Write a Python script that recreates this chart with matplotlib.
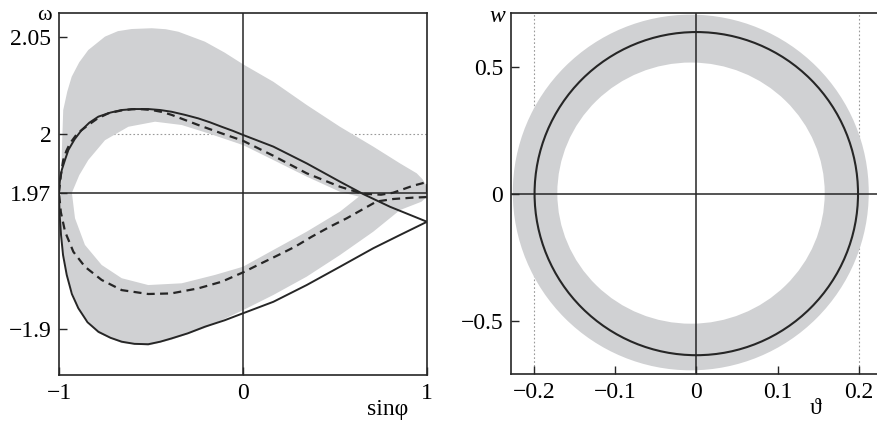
import numpy as np
import matplotlib
matplotlib.use('Agg')
import matplotlib.pyplot as plt
from matplotlib.path import Path
from matplotlib.patches import PathPatch, Ellipse

plt.rcParams['font.family'] = ['Liberation Serif', 'DejaVu Serif']

# ---- left panel: omega vs sin(phi) ----
# solid loop, upper branch (left -> right) and lower branch (right -> left)
solid_up_s = [-1.0, -0.995, -0.985, -0.967, -0.949, -0.915, -0.877, -0.835, -0.786, -0.72, -0.659,
              -0.59, -0.515, -0.45, -0.388, -0.315, -0.243, -0.18, -0.116, -0.055, 0.0, 0.165, 0.346,
              0.527, 0.654, 0.799, 1.0]
solid_up_w = [1.970, 1.976, 1.9817, 1.9870, 1.9920, 1.9975, 2.0022, 2.0060, 2.0091, 2.0112, 2.0125,
              2.0130, 2.0130, 2.0125, 2.0116, 2.0100, 2.0082, 2.0062, 2.0039, 2.0018, 1.9997, 1.9937, 1.9851,
              1.9757, 1.9693, 1.9628, 1.9551]
solid_lo_s = [1.0, 0.853, 0.708, 0.527, 0.346, 0.165, 0.0, -0.1, -0.207, -0.3, -0.388, -0.45, -0.515, -0.59,
              -0.659, -0.72, -0.786, -0.845, -0.895, -0.93, -0.958, -0.978, -0.989, -0.996, -1.0]
solid_lo_w = [1.9551, 1.9483, 1.9415, 1.9320, 1.9226, 1.9140, 1.9081, 1.9045, 1.9012, 1.8978, 1.8952, 1.8935, 1.8922, 1.8924,
              1.8935, 1.8955, 1.8986, 1.9035, 1.9107, 1.9180, 1.9278, 1.9380, 1.9483, 1.9580, 1.970]

# dashed loop
dash_up_s = [-1.0, -0.99, -0.977, -0.96, -0.94, -0.9, -0.841, -0.79, -0.732, -0.665, -0.605, -0.55, -0.496,
             -0.44, -0.388, -0.243, -0.116, 0.0, 0.165, 0.346, 0.527, 0.65, 0.75, 0.815, 0.924, 1.0]
dash_up_w = [1.970, 1.979, 1.9868, 1.9915, 1.9954, 2.0005, 2.0048, 2.0082, 2.0108, 2.0122, 2.0129, 2.0129, 2.0125,
             2.0115, 2.0100, 2.0048, 2.0005, 1.9967, 1.9890, 1.9800, 1.9731, 1.9695, 1.9690, 1.9700, 1.9736, 1.9755]
dash_lo_s = [1.0, 0.926, 0.817, 0.726, 0.654, 0.564, 0.473, 0.373, 0.283, 0.192, 0.1, 0.0, -0.116, -0.243,
             -0.39, -0.515, -0.659, -0.768, -0.859, -0.922, -0.967, -0.99, -1.0]
dash_lo_w = [1.9678, 1.9675, 1.9668, 1.9655, 1.9617, 1.9569, 1.9526, 1.9474, 1.9423, 1.9380, 1.9338, 1.9291, 1.9243, 1.9209,
             1.9183, 1.9180, 1.9200, 1.9252, 1.9320, 1.9397, 1.9500, 1.9600, 1.970]

# grey band: outer boundary and inner hole
band_out_s = [-0.993, -0.99, -0.985, -0.977, -0.955, -0.931, -0.89, -0.841, -0.75, -0.68, -0.605, -0.496, -0.42,
              -0.351, -0.207, -0.1, 0.0, 0.165, 0.346, 0.527, 0.708, 0.853, 0.944, 0.975, 0.989, 1.0, 1.0,
              0.97, 0.853, 0.708, 0.527, 0.346, 0.165, 0.0, -0.207, -0.388, -0.515, -0.659, -0.786, -0.895,
              -0.958, -0.989, -0.997]
band_out_w = [1.960, 1.970, 1.990, 2.0125, 2.022, 2.0296, 2.037, 2.0433, 2.0502, 2.053, 2.0541, 2.0545, 2.054,
              2.0527, 2.0476, 2.042, 2.036, 2.027, 2.0151, 2.0039, 1.9937, 1.9851, 1.980, 1.977, 1.9749, 1.972, 1.968,
              1.9654, 1.9611, 1.950, 1.938, 1.9269, 1.9175, 1.9097, 1.9005, 1.8945, 1.8915, 1.8928, 1.8979, 1.9100,
              1.9272, 1.9478, 1.956]
band_in_s = [-0.93, -0.89, -0.841, -0.75, -0.623, -0.478, -0.333, -0.188, 0.0, 0.165, 0.346, 0.527, 0.63,
             0.527, 0.346, 0.165, 0.0, -0.152, -0.333, -0.515, -0.659, -0.768, -0.859, -0.913]
band_in_w = [1.970, 1.979, 1.9868, 1.997, 2.0039, 2.0065, 2.0048, 2.0005, 1.9945, 1.9868, 1.9783, 1.9705, 1.968,
             1.9603, 1.950, 1.9406, 1.932, 1.9278, 1.9235, 1.9226, 1.9261, 1.9329, 1.9432, 1.9569]

left_yticks = [1.9, 1.97, 2.0, 2.05]
left_ylabels = ['\u22121.9', '1.97', '2', '2.05']
left_xticks = [-1, 0, 1]
left_xlabels = ['\u22121', '0', '1']

# ---- right panel: w vs theta ----
circle_c = (0.0, 0.0)
circle_ax = (0.199, 0.636)          # semi-axes (theta, w)
ring_out_c = (-0.0068, 0.0045)
ring_out_ax = (0.219, 0.700)
ring_in_c = (-0.0065, 0.002)
ring_in_ax = (0.1645, 0.514)

right_xticks = [-0.2, -0.1, 0, 0.1, 0.2]
right_xlabels = ['\u22120.2', '\u22120.1', '0', '0.1', '0.2']
right_yticks = [-0.5, 0, 0.5]
right_ylabels = ['\u22120.5', '0', '0.5']

GREY = '#d0d1d3'
INK = '#262626'
W, H = 877, 421

fig = plt.figure(figsize=(W / 100, H / 100), dpi=100)
ax1 = fig.add_axes([59 / W, 1 - 375 / H, (427 - 59) / W, (375 - 13) / H])
ax2 = fig.add_axes([511 / W, 1 - 374 / H, (882 - 511) / W, (374 - 13) / H])


def ring_path(outer, inner):
    outer = np.asarray(outer)
    inner = np.asarray(inner)

    def area(p):
        x, y = p[:, 0], p[:, 1]
        return 0.5 * np.sum(x * np.roll(y, -1) - np.roll(x, -1) * y)
    if np.sign(area(outer)) == np.sign(area(inner)):
        inner = inner[::-1]
    verts = np.concatenate([outer, outer[:1], inner, inner[:1]])
    codes = ([Path.MOVETO] + [Path.LINETO] * (len(outer) - 1) + [Path.CLOSEPOLY] +
             [Path.MOVETO] + [Path.LINETO] * (len(inner) - 1) + [Path.CLOSEPOLY])
    return Path(verts, codes)


# left panel
band = ring_path(np.column_stack([band_out_s, band_out_w]), np.column_stack([band_in_s, band_in_w]))
ax1.add_patch(PathPatch(band, facecolor=GREY, edgecolor='none', zorder=1))
ax1.axhline(2.0, color='#9a9a9a', lw=0.8, ls=(0, (1.5, 2)), zorder=0.5)
ax1.axhline(1.97, color=INK, lw=1.1, zorder=2)
ax1.axvline(0, color=INK, lw=1.1, zorder=2)
ax1.plot(solid_up_s + solid_lo_s, solid_up_w + solid_lo_w, color=INK, lw=1.4, zorder=3)
ax1.plot(dash_up_s + dash_lo_s, dash_up_w + dash_lo_w, color=INK, lw=1.6, ls=(0, (3.6, 2.4)), zorder=3)
ax1.set_xlim(-1, 1)
ax1.set_ylim(2.05 - 338 / 1947, 2.05 + 24 / 1947)
ax1.set_xticks(left_xticks)
ax1.set_xticklabels(left_xlabels)
ax1.set_yticks(left_yticks)
ax1.set_yticklabels(left_ylabels)

# right panel
ax2.add_patch(Ellipse(ring_out_c, 2 * ring_out_ax[0], 2 * ring_out_ax[1], facecolor=GREY, edgecolor='none', zorder=1))
ax2.add_patch(Ellipse(ring_in_c, 2 * ring_in_ax[0], 2 * ring_in_ax[1], facecolor='white', edgecolor='none', zorder=1.2))
for xv in (-0.2, 0.2):
    ax2.axvline(xv, color='#9a9a9a', lw=0.8, ls=(0, (1.5, 2)), zorder=0.5)
ax2.axhline(0, color=INK, lw=1.1, zorder=2)
ax2.axvline(0, color=INK, lw=1.1, zorder=2)
ax2.add_patch(Ellipse(circle_c, 2 * circle_ax[0], 2 * circle_ax[1], facecolor='none', edgecolor=INK, lw=1.5, zorder=3))
ax2.set_xlim(-0.228, 0.2285)
ax2.set_ylim(-0.71, 0.711)
ax2.set_xticks(right_xticks)
ax2.set_xticklabels(right_xlabels)
ax2.set_yticks(right_yticks)
ax2.set_yticklabels(right_ylabels)

for ax in (ax1, ax2):
    ax.tick_params(direction='in', length=6, width=1, labelsize=17, pad=6, color=INK)
    ax.tick_params(axis='y', pad=5.5)
    for sp in ax.spines.values():
        sp.set_linewidth(1.2)
        sp.set_color(INK)
        sp.set_zorder(4)

fig.text(44 / W, 1 - 16 / H, '\u03c9', fontsize=16, ha='center', va='center')
fig.text(388 / W, 1 - 409 / H, 'sin\u03c6', fontsize=17, ha='center', va='center')
fig.text(497 / W, 1 - 16 / H, 'w', fontsize=17, style='italic', ha='center', va='center')
fig.text(816 / W, 1 - 409 / H, '\u03d1', fontsize=17, ha='center', va='center')

fig.savefig('out.png', dpi=100)
